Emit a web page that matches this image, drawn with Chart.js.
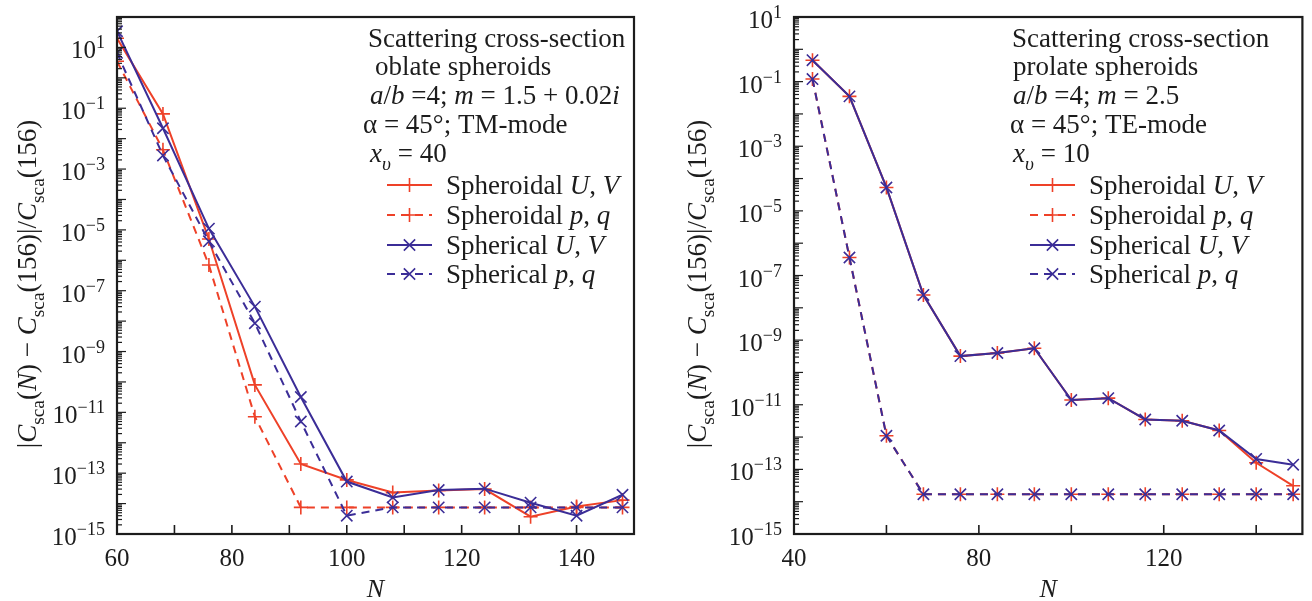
<!DOCTYPE html>
<html>
<head>
<meta charset="utf-8">
<script src="https://cdn.jsdelivr.net/npm/chart.js@4.4.1/dist/chart.umd.min.js"></script>
<style>
  html, body { margin: 0; padding: 0; background: #fff; }
  #wrap { position: relative; width: 1312px; height: 601px; }
  .box { position: absolute; top: 0; width: 656px; height: 601px; }
</style>
</head>
<body>
<div id="wrap">
  <div class="box" style="left:0"><canvas id="c1"></canvas></div>
  <div class="box" style="left:656px"><canvas id="c2"></canvas></div>
</div>
<script>
// ---- data ----
const nLeft = [60, 68, 76, 84, 92, 100, 108, 116, 124, 132, 140, 148];
const leftSpheroidalUV = [20, 0.065, 5e-6, 8e-11, 2e-13, 6e-14, 2.3e-14, 2.7e-14, 3e-14, 3.7e-15, 8e-15, 1.3e-14];
const leftSpheroidalPQ = [3.5, 4.3e-3, 7e-7, 7.2e-12, 7.5e-15, 7.5e-15, 7.5e-15, 7.5e-15, 7.5e-15, 7.5e-15, 7.5e-15, 7.5e-15];
const leftSphericalUV = [34, 0.022, 1.1e-5, 3e-8, 3.2e-11, 5.3e-14, 1.6e-14, 2.8e-14, 3.1e-14, 1.07e-14, 4e-15, 1.95e-14];
const leftSphericalPQ = [6.6, 2.8e-3, 4.2e-6, 8.5e-9, 5e-12, 4e-15, 7.5e-15, 7.5e-15, 7.5e-15, 7.5e-15, 7.5e-15, 7.5e-15];

const nRight = [44, 52, 60, 68, 76, 84, 92, 100, 108, 116, 124, 132, 140, 148];
const rightSpheroidalUV = [0.46, 0.035, 5.3e-5, 2.5e-8, 3.2e-10, 4e-10, 5.6e-10, 1.4e-11, 1.6e-11, 3.5e-12, 3.2e-12, 1.6e-12, 1.6e-13, 3.1e-14];
const rightSpheroidalPQ = [0.12, 3.6e-7, 1.1e-12, 1.7e-14, 1.7e-14, 1.7e-14, 1.7e-14, 1.7e-14, 1.7e-14, 1.7e-14, 1.7e-14, 1.7e-14, 1.7e-14, 1.7e-14];
const rightSphericalUV = [0.46, 0.035, 5.3e-5, 2.5e-8, 3.2e-10, 4e-10, 5.6e-10, 1.4e-11, 1.6e-11, 3.5e-12, 3.2e-12, 1.6e-12, 2.1e-13, 1.4e-13];
const rightSphericalPQ = [0.12, 3.6e-7, 1.1e-12, 1.7e-14, 1.7e-14, 1.7e-14, 1.7e-14, 1.7e-14, 1.7e-14, 1.7e-14, 1.7e-14, 1.7e-14, 1.7e-14, 1.7e-14];

const leftXLabels = [60, 80, 100, 120, 140];
const rightXLabels = [40, 80, 120];
const seriesNames = ['Spheroidal', 'Spheroidal', 'Spherical', 'Spherical'];

const RED = '#ee4128';
const BLUE = '#3b2d97';
const INK = '#1c1c1c';
const FONT = '"Liberation Serif", "Times New Roman", serif';

// rich text: segs = [[text, style]], style '' | 'i' | 'sub' | 'isub'
function drawRich(ctx, x, y, segs, size, align) {
  const parts = segs.map(([t, s]) => {
    const small = s === 'sub' || s === 'isub';
    const italic = s === 'i' || s === 'isub';
    const font = (italic ? 'italic ' : '') + (small ? size * 0.72 : size) + 'px ' + FONT;
    ctx.font = font;
    return { t, font, w: ctx.measureText(t).width, dy: small ? size * 0.28 : 0 };
  });
  const total = parts.reduce((a, p) => a + p.w, 0);
  let cx = align === 'center' ? x - total / 2 : align === 'right' ? x - total : x;
  ctx.textAlign = 'left';
  ctx.textBaseline = 'alphabetic';
  parts.forEach(p => { ctx.font = p.font; ctx.fillText(p.t, cx, y + p.dy); cx += p.w; });
}

const yTitle = [['|', ''], ['C', 'i'], ['sca', 'sub'], ['(', ''], ['N', 'i'], [') \u2212 ', ''], ['C', 'i'], ['sca', 'sub'],
  ['(156)|/', ''], ['C', 'i'], ['sca', 'sub'], ['(156)', '']];

function legendRows(kind) {
  return [
    [['Spheroidal ', ''], ['U', 'i'], [', ', ''], ['V', 'i']],
    [['Spheroidal ', ''], ['p', 'i'], [', ', ''], ['q', 'i']],
    [['Spherical ', ''], ['U', 'i'], [', ', ''], ['V', 'i']],
    [['Spherical ', ''], ['p', 'i'], [', ', ''], ['q', 'i']]
  ];
}

function makePanel(cfg) {
  return {
    id: 'panel' + cfg.off,
    afterDraw(chart) {
      const ctx = chart.ctx, a = chart.chartArea, xs = chart.scales.x, ys = chart.scales.y;
      ctx.save();
      ctx.strokeStyle = INK;
      ctx.fillStyle = INK;
      // inward x ticks
      ctx.lineWidth = 1.6;
      for (let v = cfg.xMin + cfg.xStep; v < cfg.xMax; v += cfg.xStep) {
        const px = xs.getPixelForValue(v);
        ctx.beginPath(); ctx.moveTo(px, a.bottom); ctx.lineTo(px, a.bottom - 9); ctx.stroke();
      }
      // inward y ticks (log)
      ctx.lineWidth = 1.2;
      for (let e = cfg.eMin; e <= cfg.eMax; e++) {
        const py = ys.getPixelForValue(Math.pow(10, e));
        ctx.beginPath(); ctx.moveTo(a.left, py); ctx.lineTo(a.left + 9, py); ctx.stroke();
        if (e === cfg.eMax) break;
        for (let k = 2; k <= 9; k++) {
          const qy = ys.getPixelForValue(k * Math.pow(10, e));
          ctx.beginPath(); ctx.moveTo(a.left, qy); ctx.lineTo(a.left + 5, qy); ctx.stroke();
        }
      }
      // frame
      ctx.lineWidth = 2.2;
      ctx.strokeRect(a.left, a.top, a.right - a.left, a.bottom - a.top);
      // x labels
      ctx.font = '25px ' + FONT;
      ctx.textAlign = 'center'; ctx.textBaseline = 'alphabetic';
      cfg.xLabels.forEach(v => ctx.fillText(String(v), xs.getPixelForValue(v), 566));
      // y labels 10^e for odd e
      for (let e = cfg.eMin; e <= cfg.eMax; e++) {
        if (Math.abs(e) % 2 !== 1) continue;
        const py = ys.getPixelForValue(Math.pow(10, e));
        const sup = e < 0 ? '\u2212' + (-e) : String(e);
        ctx.font = '25px ' + FONT; const w1 = ctx.measureText('10').width;
        ctx.font = '18px ' + FONT; const w2 = ctx.measureText(sup).width;
        const x0 = a.left - 12 - w1 - w2;
        ctx.textAlign = 'left';
        ctx.font = '25px ' + FONT; ctx.fillText('10', x0, py + 11);
        ctx.font = '18px ' + FONT; ctx.fillText(sup, x0 + w1, py + 1);
      }
      // axis titles
      drawRich(ctx, (a.left + a.right) / 2, 597, [['N', 'i']], 26, 'center');
      ctx.save();
      ctx.translate(cfg.yTitleX, 284);
      ctx.rotate(-Math.PI / 2);
      drawRich(ctx, 0, 0, yTitle, 27, 'center');
      ctx.restore();
      // annotation
      const base = [47, 75, 104, 133, 162];
      cfg.notes.forEach((segs, i) => drawRich(ctx, cfg.noteX[i] - cfg.off, base[i], segs, 27, 'left'));
      // legend
      const lb = [194, 224, 254, 283];
      const colors = [RED, RED, BLUE, BLUE];
      const dashes = [[], [8, 6], [], [8, 6]];
      const styles = ['cross', 'cross', 'crossRot', 'crossRot'];
      legendRows().forEach((segs, i) => {
        const ly = lb[i] - 9;
        const x1 = cfg.legX[0] - cfg.off, x2 = cfg.legX[1] - cfg.off;
        ctx.strokeStyle = colors[i]; ctx.lineWidth = 2; ctx.setLineDash(dashes[i]);
        ctx.beginPath(); ctx.moveTo(x1, ly); ctx.lineTo(x2, ly); ctx.stroke();
        ctx.setLineDash([]); ctx.lineWidth = 1.6;
        Chart.helpers.drawPoint(ctx, { pointStyle: styles[i], radius: styles[i] === 'cross' ? 7 : 8, borderWidth: 1.6 }, (x1 + x2) / 2, ly);
        ctx.fillStyle = INK;
        drawRich(ctx, cfg.legX[2] - cfg.off, lb[i], segs, 27, 'left');
      });
      ctx.restore();
    }
  };
}

function ds(xs, ys, color, dashed, style, order) {
  return {
    data: xs.map((n, i) => ({ x: n, y: ys[i] })),
    borderColor: color,
    backgroundColor: color,
    borderWidth: 2,
    borderDash: dashed ? [8, 6] : [],
    pointStyle: style,
    pointRadius: style === 'cross' ? 7 : 8,
    pointBorderWidth: 1.6,
    pointBorderColor: color,
    tension: 0,
    order: order
  };
}

function build(id, cfg, sets) {
  new Chart(document.getElementById(id), {
    type: 'line',
    data: { datasets: sets },
    options: {
      responsive: true,
      maintainAspectRatio: false,
      animation: false,
      layout: { padding: { top: 17, right: cfg.padRight, left: 0, bottom: 0 } },
      plugins: { legend: { display: false }, tooltip: { enabled: false } },
      scales: {
        x: {
          type: 'linear', min: cfg.xMin, max: cfg.xMax,
          grid: { display: false }, border: { display: false },
          ticks: { display: false },
          afterFit: s => { s.height = 67; }
        },
        y: {
          type: 'logarithmic', min: Math.pow(10, cfg.eMin), max: Math.pow(10, cfg.eMax),
          grid: { display: false }, border: { display: false },
          ticks: { display: false },
          afterFit: s => { s.width = cfg.yWidth; }
        }
      }
    },
    plugins: [makePanel(cfg)]
  });
}

const leftCfg = {
  off: 0, xMin: 60, xMax: 150, xStep: 10, eMin: -15, eMax: 2, xLabels: leftXLabels,
  padRight: 22, yWidth: 117, yTitleX: 36,
  noteX: [368, 375, 370, 363, 370],
  notes: [
    [['Scattering cross-section', '']],
    [['oblate spheroids', '']],
    [['a', 'i'], ['/', ''], ['b', 'i'], [' =4; ', ''], ['m', 'i'], [' = 1.5 + 0.02', ''], ['i', 'i']],
    [['\u03b1 = 45\u00b0; TM-mode', '']],
    [['x', 'i'], ['\u03c5', 'isub'], [' = 40', '']]
  ],
  legX: [387, 432, 446]
};
const rightCfg = {
  off: 656, xMin: 40, xMax: 150, xStep: 20, eMin: -15, eMax: 1, xLabels: rightXLabels,
  padRight: 1, yWidth: 138, yTitleX: 50,
  noteX: [1012, 1013, 1013, 1010, 1013],
  notes: [
    [['Scattering cross-section', '']],
    [['prolate spheroids', '']],
    [['a', 'i'], ['/', ''], ['b', 'i'], [' =4; ', ''], ['m', 'i'], [' = 2.5', '']],
    [['\u03b1 = 45\u00b0; TE-mode', '']],
    [['x', 'i'], ['\u03c5', 'isub'], [' = 10', '']]
  ],
  legX: [1030, 1075, 1089]
};

build('c1', leftCfg, [
  ds(nLeft, leftSpheroidalUV, RED, false, 'cross', 3),
  ds(nLeft, leftSpheroidalPQ, RED, true, 'cross', 2),
  ds(nLeft, leftSphericalUV, BLUE, false, 'crossRot', 1),
  ds(nLeft, leftSphericalPQ, BLUE, true, 'crossRot', 0)
]);
build('c2', rightCfg, [
  ds(nRight, rightSpheroidalUV, RED, false, 'cross', 3),
  ds(nRight, rightSpheroidalPQ, RED, true, 'cross', 2),
  ds(nRight, rightSphericalUV, BLUE, false, 'crossRot', 1),
  ds(nRight, rightSphericalPQ, BLUE, true, 'crossRot', 0)
]);
</script>
</body>
</html>
